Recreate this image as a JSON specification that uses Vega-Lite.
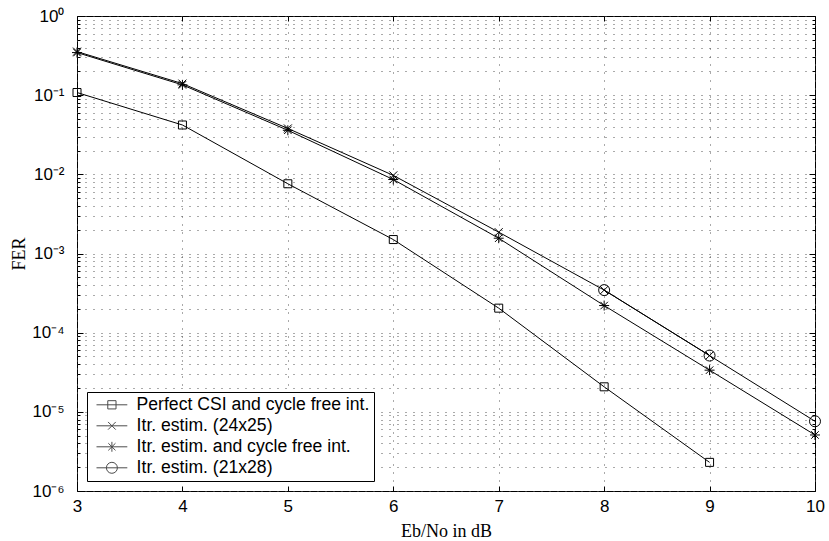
{
  "$schema": "https://vega.github.io/schema/vega-lite/v6.json",
  "width": 738,
  "height": 475,
  "autosize": {"type": "none"},
  "padding": {"left": 77, "top": 16, "right": 14, "bottom": 50},
  "background": "white",
  "config": {
    "view": {"stroke": "black", "strokeWidth": 1},
    "axis": {
      "labelFont": "Liberation Sans",
      "labelFontSize": 17,
      "labelColor": "black",
      "titleFont": "Liberation Serif",
      "titleFontWeight": "normal",
      "titleFontSize": 18,
      "titleColor": "black",
      "domain": false,
      "tickColor": "black"
    }
  },
  "data": {
    "values": [
      {"x": 3, "y": 0.108, "s": "Perfect CSI and cycle free int."},
      {"x": 4, "y": 0.042, "s": "Perfect CSI and cycle free int."},
      {"x": 5, "y": 0.0076, "s": "Perfect CSI and cycle free int."},
      {"x": 6, "y": 0.0015, "s": "Perfect CSI and cycle free int."},
      {"x": 7, "y": 0.000204, "s": "Perfect CSI and cycle free int."},
      {"x": 8, "y": 0.0000207, "s": "Perfect CSI and cycle free int."},
      {"x": 9, "y": 0.0000023, "s": "Perfect CSI and cycle free int."},
      {"x": 3, "y": 0.355, "s": "Itr. estim. (24x25)"},
      {"x": 4, "y": 0.14, "s": "Itr. estim. (24x25)"},
      {"x": 5, "y": 0.038, "s": "Itr. estim. (24x25)"},
      {"x": 6, "y": 0.0097, "s": "Itr. estim. (24x25)"},
      {"x": 7, "y": 0.00186, "s": "Itr. estim. (24x25)"},
      {"x": 8, "y": 0.000345, "s": "Itr. estim. (24x25)"},
      {"x": 9, "y": 0.0000514, "s": "Itr. estim. (24x25)"},
      {"x": 3, "y": 0.345, "s": "Itr. estim. and cycle free int."},
      {"x": 4, "y": 0.135, "s": "Itr. estim. and cycle free int."},
      {"x": 5, "y": 0.036, "s": "Itr. estim. and cycle free int."},
      {"x": 6, "y": 0.0086, "s": "Itr. estim. and cycle free int."},
      {"x": 7, "y": 0.00156, "s": "Itr. estim. and cycle free int."},
      {"x": 8, "y": 0.00022, "s": "Itr. estim. and cycle free int."},
      {"x": 9, "y": 0.0000336, "s": "Itr. estim. and cycle free int."},
      {"x": 10, "y": 0.0000051, "s": "Itr. estim. and cycle free int."},
      {"x": 8, "y": 0.000345, "s": "Itr. estim. (21x28)"},
      {"x": 9, "y": 0.0000514, "s": "Itr. estim. (21x28)"},
      {"x": 10, "y": 0.0000076, "s": "Itr. estim. (21x28)"}
    ]
  },
  "layer": [
    {
      "mark": {"type": "line", "color": "black", "strokeWidth": 1},
      "encoding": {
        "x": {
          "field": "x", "type": "quantitative",
          "scale": {"domain": [3, 10], "nice": false, "zero": false},
          "axis": {
            "values": [3, 4, 5, 6, 7, 8, 9, 10],
            "title": "Eb/No in dB",
            "grid": true, "gridDash": [1, 7], "gridColor": "#555",
            "tickSize": -5, "labelPadding": 12, "labelFlush": false,
            "titlePadding": 8
          }
        },
        "y": {
          "field": "y", "type": "quantitative",
          "scale": {"type": "log", "domain": [0.000001, 1], "nice": false},
          "axis": {
            "values": [0.000001, 0.000002, 0.000003, 0.000004, 0.000005, 0.000006, 0.000007, 0.000008, 0.000009,
                       0.00001, 0.00002, 0.00003, 0.00004, 0.00005, 0.00006, 0.00007, 0.00008, 0.00009,
                       0.0001, 0.0002, 0.0003, 0.0004, 0.0005, 0.0006, 0.0007, 0.0008, 0.0009,
                       0.001, 0.002, 0.003, 0.004, 0.005, 0.006, 0.007, 0.008, 0.009,
                       0.01, 0.02, 0.03, 0.04, 0.05, 0.06, 0.07, 0.08, 0.09,
                       0.1, 0.2, 0.3, 0.4, 0.5, 0.6, 0.7, 0.8, 0.9, 1],
            "title": "FER",
            "grid": true, "gridDash": [1, 7], "gridColor": "#555",
            "tickSize": {"condition": {"test": "indexof([1,0.1,0.01,0.001,0.0001,0.00001,0.000001], datum.value) >= 0", "value": -6}, "value": -3},
            "labelExpr": "indexof([1,0.1,0.01,0.001,0.0001,0.00001,0.000001], datum.value) >= 0 ? '10' + ['⁰','⁻¹','⁻²','⁻³','⁻⁴','⁻⁵','⁻⁶'][indexof([1,0.1,0.01,0.001,0.0001,0.00001,0.000001], datum.value)] : ''",
            "labelOverlap": false, "labelFlush": false, "labelPadding": 19,
            "titlePadding": 3
          }
        },
        "detail": {"field": "s", "type": "nominal"}
      }
    },
    {
      "mark": {"type": "point", "filled": false, "color": "black", "strokeWidth": 1, "size": 100, "opacity": 1},
      "encoding": {
        "x": {
          "field": "x", "type": "quantitative",
          "axis": {"orient": "top", "labels": false, "grid": false, "title": null, "values": [3, 4, 5, 6, 7, 8, 9, 10], "tickSize": -5}
        },
        "y": {
          "field": "y", "type": "quantitative", "scale": {"type": "log"},
          "axis": {
            "orient": "right", "labels": false, "grid": false, "title": null,
            "values": [0.000001, 0.000002, 0.000003, 0.000004, 0.000005, 0.000006, 0.000007, 0.000008, 0.000009,
                       0.00001, 0.00002, 0.00003, 0.00004, 0.00005, 0.00006, 0.00007, 0.00008, 0.00009,
                       0.0001, 0.0002, 0.0003, 0.0004, 0.0005, 0.0006, 0.0007, 0.0008, 0.0009,
                       0.001, 0.002, 0.003, 0.004, 0.005, 0.006, 0.007, 0.008, 0.009,
                       0.01, 0.02, 0.03, 0.04, 0.05, 0.06, 0.07, 0.08, 0.09,
                       0.1, 0.2, 0.3, 0.4, 0.5, 0.6, 0.7, 0.8, 0.9, 1],
            "tickSize": {"condition": {"test": "indexof([1,0.1,0.01,0.001,0.0001,0.00001,0.000001], datum.value) >= 0", "value": -6}, "value": -3}
          }
        },
        "shape": {
          "field": "s", "type": "nominal",
          "scale": {
            "domain": ["Perfect CSI and cycle free int.", "Itr. estim. (24x25)", "Itr. estim. and cycle free int.", "Itr. estim. (21x28)"],
            "range": [
              "M-0.8,-0.8H0.8V0.8H-0.8Z",
              "M-0.8,-0.8L0.8,0.8M-0.8,0.8L0.8,-0.8",
              "M-0.75,-0.75L0.75,0.75M-0.75,0.75L0.75,-0.75M0,-1V1M-1,0H1",
              "M1.1,0A1.1,1.1 0 1,1 -1.1,0A1.1,1.1 0 1,1 1.1,0"
            ]
          },
          "legend": null
        }
      }
    },
    {
      "transform": [{"filter": "false"}],
      "mark": {"type": "point", "filled": false, "color": "black", "strokeWidth": 1},
      "encoding": {
        "x": {"field": "x", "type": "quantitative", "axis": null},
        "y": {"field": "y", "type": "quantitative", "scale": {"type": "log"}, "axis": null},
        "shape": {
          "field": "s", "type": "nominal",
          "scale": {
            "domain": ["Perfect CSI and cycle free int.", "Itr. estim. (24x25)", "Itr. estim. and cycle free int.", "Itr. estim. (21x28)"],
            "range": [
              "M-0.6,0H5M1.45,-0.75H2.95V0.75H1.45Z",
              "M-0.6,0H5M1.5,-0.7L2.9,0.7M1.5,0.7L2.9,-0.7",
              "M-0.6,0H5M1.55,-0.65L2.85,0.65M1.55,0.65L2.85,-0.65M2.2,-0.9V0.9",
              "M-0.6,0H5M3.2,0A1,1 0 1,1 1.2,0A1,1 0 1,1 3.2,0"
            ]
          },
          "legend": {
            "title": null,
            "orient": "bottom-left",
            "offset": 10,
            "padding": 4,
            "fillColor": "white",
            "strokeColor": "black",
            "symbolSize": 121,
            "symbolStrokeColor": "black",
            "symbolFillColor": "transparent",
            "symbolStrokeWidth": 1,
            "labelFont": "Liberation Sans",
            "labelFontSize": 17.6,
            "labelColor": "black",
            "labelOffset": 28,
            "rowPadding": 2,
            "labelLimit": 400
          }
        }
      }
    }
  ],
  "resolve": {
    "axis": {"x": "independent", "y": "independent"},
    "scale": {"shape": "independent"},
    "legend": {"shape": "independent"}
  }
}
